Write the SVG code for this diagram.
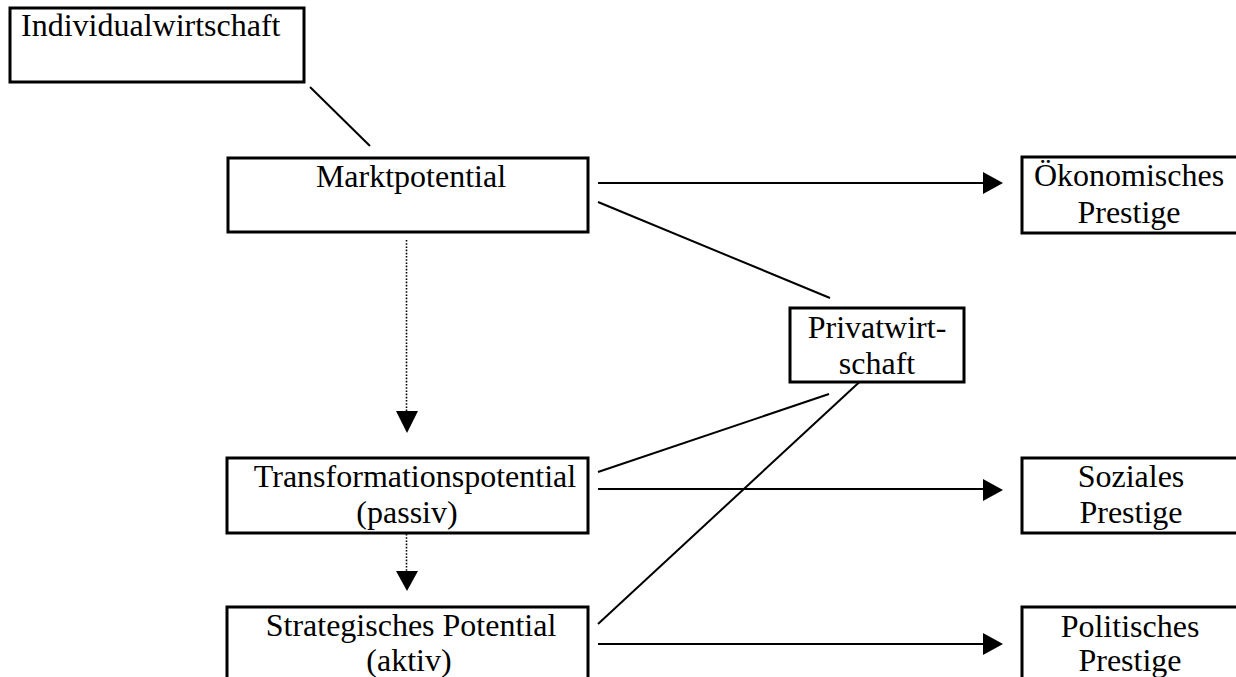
<svg xmlns="http://www.w3.org/2000/svg" width="1236" height="677" viewBox="0 0 1236 677">
<defs>
<style>
.box{fill:#fff;stroke:#000;stroke-width:3}
.t{font-family:"Liberation Serif","Times New Roman",serif;font-size:32px;fill:#000}
.m{text-anchor:middle}
.ln{stroke:#000;stroke-width:2;fill:none}
.dot{stroke:#000;stroke-width:1.6;stroke-dasharray:1.6 1.6;fill:none}
.ah{fill:#000}
</style>
</defs>
<rect width="1236" height="677" fill="#fff"/>
<g id="connectors">
<line class="ln" x1="310" y1="87" x2="370" y2="146"/>
<line class="ln" x1="598" y1="183" x2="984" y2="183"/>
<polygon class="ah" points="983,172 1003,183 983,194"/>
<line class="ln" x1="598" y1="202" x2="830" y2="298"/>
<line class="dot" x1="406.5" y1="240" x2="406.5" y2="412"/>
<polygon class="ah" points="396,411 418,411 407,433"/>
<line class="dot" x1="406.5" y1="534" x2="406.5" y2="572"/>
<polygon class="ah" points="396,571 418,571 407,591"/>
<line class="ln" x1="598" y1="472" x2="829" y2="394"/>
<line class="ln" x1="598" y1="489" x2="984" y2="489"/>
<polygon class="ah" points="983,479 1003,490 983,501"/>
<line class="ln" x1="598" y1="624" x2="867" y2="375"/>
<line class="ln" x1="598" y1="644" x2="984" y2="644"/>
<polygon class="ah" points="983,633 1003,644 983,655"/>
</g>
<g id="individualwirtschaft">
<rect class="box" x="10" y="8" width="294" height="74"/>
<text class="t" x="21" y="36">Individualwirtschaft</text>
</g>
<g id="marktpotential">
<rect class="box" x="228" y="158" width="360" height="74"/>
<text class="t m" x="411" y="187">Marktpotential</text>
</g>
<g id="oekonomisches">
<rect class="box" x="1022" y="157" width="218" height="76"/>
<text class="t m" x="1129" y="186">Ökonomisches</text>
<text class="t m" x="1129" y="223">Prestige</text>
</g>
<g id="privatwirtschaft">
<rect class="box" x="790" y="308" width="174" height="74"/>
<text class="t m" x="877" y="338">Privatwirt-</text>
<text class="t m" x="877" y="374">schaft</text>
</g>
<g id="transformationspotential">
<rect class="box" x="227" y="458" width="361" height="75"/>
<text class="t m" x="415" y="487">Transformationspotential</text>
<text class="t m" x="407" y="523">(passiv)</text>
</g>
<g id="soziales">
<rect class="box" x="1022" y="458" width="218" height="75"/>
<text class="t m" x="1131" y="487">Soziales</text>
<text class="t m" x="1131" y="523">Prestige</text>
</g>
<g id="strategisches">
<rect class="box" x="227" y="607" width="361" height="80"/>
<text class="t m" x="411" y="636">Strategisches Potential</text>
<text class="t m" x="409" y="671">(aktiv)</text>
</g>
<g id="politisches">
<rect class="box" x="1022" y="607" width="218" height="80"/>
<text class="t m" x="1130" y="637">Politisches</text>
<text class="t m" x="1130" y="671">Prestige</text>
</g>
</svg>
